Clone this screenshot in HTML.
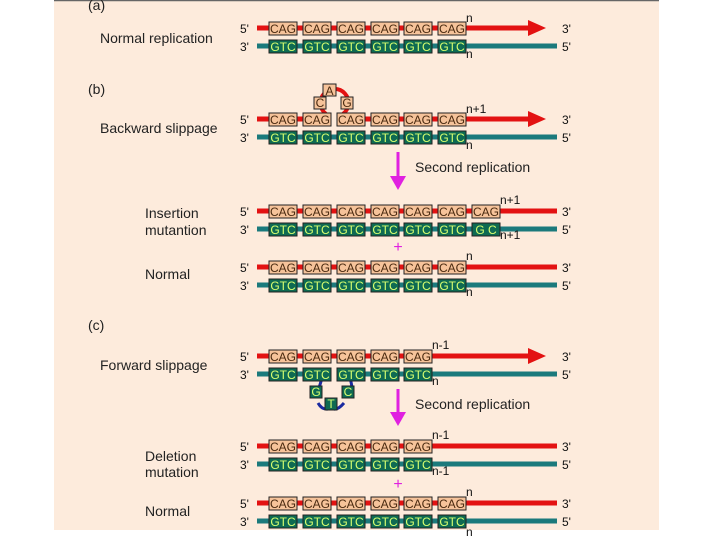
<!DOCTYPE html>
<html><head><meta charset="utf-8"><style>
html,body{margin:0;padding:0;background:#fff;width:720px;height:540px;overflow:hidden}
svg{display:block}
text{font-family:"Liberation Sans",sans-serif}
.l{font-size:14px;fill:#222}
.s{font-size:12px;fill:#111}
.c{font-size:12px;fill:#4a2a10;text-anchor:middle}
.g{font-size:12px;fill:#d8ff70;text-anchor:middle}
.n{font-size:12px;fill:#111}
.cb{fill:#f6c39a;stroke:#222;stroke-width:1}
.gb{fill:#0e6a52;stroke:#222;stroke-width:1}
.r{stroke:#e31212;stroke-width:5}
.t{stroke:#1b7a7c;stroke-width:5}
</style></head><body>
<svg width="720" height="540" viewBox="0 0 720 540">
<rect x="54" y="0" width="605" height="530" fill="#fdebdc"/>
<line x1="54" y1="0.5" x2="659" y2="0.5" stroke="#666" stroke-width="1.5"/>

<!-- labels -->
<text class="l" x="88" y="10">(a)</text>
<text class="l" x="100" y="43">Normal replication</text>
<text class="l" x="88" y="94">(b)</text>
<text class="l" x="100" y="133">Backward slippage</text>
<text class="l" x="145" y="218">Insertion</text>
<text class="l" x="145" y="235">mutantion</text>
<text class="l" x="145" y="279">Normal</text>
<text class="l" x="88" y="330">(c)</text>
<text class="l" x="100" y="370">Forward slippage</text>
<text class="l" x="145" y="461">Deletion</text>
<text class="l" x="145" y="477">mutation</text>
<text class="l" x="145" y="516">Normal</text>
<text class="l" x="415" y="172">Second replication</text>
<text class="l" x="415" y="409">Second replication</text>

<!-- magenta arrows & pluses -->
<g stroke="#e020e0" stroke-width="3" fill="#e020e0">
<line x1="398" y1="152" x2="398" y2="180"/><polygon points="390,176 406,176 398,190" stroke="none"/>
<line x1="398" y1="389" x2="398" y2="416"/><polygon points="390,412 406,412 398,426" stroke="none"/>
</g>
<text x="398" y="252" font-size="16" fill="#e020e0" text-anchor="middle" font-family="Liberation Sans">+</text>
<text x="398" y="489" font-size="16" fill="#e020e0" text-anchor="middle" font-family="Liberation Sans">+</text>

<!-- ROW a T=28 -->
<g>
<text class="s" x="240" y="33">5'</text><text class="s" x="240" y="51">3'</text>
<text class="s" x="562" y="33">3'</text><text class="s" x="562" y="51">5'</text>
<line class="r" x1="257" y1="28" x2="532" y2="28"/><polygon points="528,20 546,28 528,36" fill="#e31212"/>
<line class="t" x1="257" y1="46" x2="557" y2="46"/>
<rect class="cb" x="269" y="22" width="28" height="13"/><text class="c" x="283" y="33">CAG</text>
<rect class="cb" x="303" y="22" width="28" height="13"/><text class="c" x="317" y="33">CAG</text>
<rect class="cb" x="337" y="22" width="28" height="13"/><text class="c" x="351" y="33">CAG</text>
<rect class="cb" x="371" y="22" width="28" height="13"/><text class="c" x="385" y="33">CAG</text>
<rect class="cb" x="404" y="22" width="28" height="13"/><text class="c" x="418" y="33">CAG</text>
<rect class="cb" x="438" y="22" width="28" height="13"/><text class="c" x="452" y="33">CAG</text>
<rect class="gb" x="269" y="40" width="28" height="13"/><text class="g" x="283" y="51">GTC</text>
<rect class="gb" x="303" y="40" width="28" height="13"/><text class="g" x="317" y="51">GTC</text>
<rect class="gb" x="337" y="40" width="28" height="13"/><text class="g" x="351" y="51">GTC</text>
<rect class="gb" x="371" y="40" width="28" height="13"/><text class="g" x="385" y="51">GTC</text>
<rect class="gb" x="404" y="40" width="28" height="13"/><text class="g" x="418" y="51">GTC</text>
<rect class="gb" x="438" y="40" width="28" height="13"/><text class="g" x="452" y="51">GTC</text>
<text class="n" x="466" y="22">n</text><text class="n" x="466" y="58">n</text>
</g>

<!-- ROW b T=119 -->
<g>
<text class="s" x="240" y="124">5'</text><text class="s" x="240" y="142">3'</text>
<text class="s" x="562" y="124">3'</text><text class="s" x="562" y="142">5'</text>
<line class="r" x1="257" y1="119" x2="329" y2="119"/><line class="r" x1="339" y1="119" x2="532" y2="119"/>
<polygon points="528,111 546,119 528,127" fill="#e31212"/>
<path d="M326,114 A14,14 0 1,1 343,114" fill="none" stroke="#e31212" stroke-width="4"/>
<rect class="cb" x="323" y="84" width="13" height="12"/><text class="c" x="329.5" y="95">A</text>
<rect class="cb" x="314" y="97" width="12" height="12"/><text class="c" x="320" y="107">C</text>
<rect class="cb" x="341" y="97" width="12" height="12"/><text class="c" x="347" y="107">G</text>
<line class="t" x1="257" y1="137" x2="557" y2="137"/>
<rect class="cb" x="269" y="113" width="28" height="13"/><text class="c" x="283" y="124">CAG</text>
<rect class="cb" x="303" y="113" width="28" height="13"/><text class="c" x="317" y="124">CAG</text>
<rect class="cb" x="337" y="113" width="28" height="13"/><text class="c" x="351" y="124">CAG</text>
<rect class="cb" x="371" y="113" width="28" height="13"/><text class="c" x="385" y="124">CAG</text>
<rect class="cb" x="404" y="113" width="28" height="13"/><text class="c" x="418" y="124">CAG</text>
<rect class="cb" x="438" y="113" width="28" height="13"/><text class="c" x="452" y="124">CAG</text>
<rect class="gb" x="269" y="131" width="28" height="13"/><text class="g" x="283" y="142">GTC</text>
<rect class="gb" x="303" y="131" width="28" height="13"/><text class="g" x="317" y="142">GTC</text>
<rect class="gb" x="337" y="131" width="28" height="13"/><text class="g" x="351" y="142">GTC</text>
<rect class="gb" x="371" y="131" width="28" height="13"/><text class="g" x="385" y="142">GTC</text>
<rect class="gb" x="404" y="131" width="28" height="13"/><text class="g" x="418" y="142">GTC</text>
<rect class="gb" x="438" y="131" width="28" height="13"/><text class="g" x="452" y="142">GTC</text>
<text class="n" x="466" y="113">n+1</text><text class="n" x="466" y="149">n</text>
</g>

<!-- Insertion T=211 -->
<g>
<text class="s" x="240" y="216">5'</text><text class="s" x="240" y="234">3'</text>
<text class="s" x="562" y="216">3'</text><text class="s" x="562" y="234">5'</text>
<line class="r" x1="257" y1="211" x2="557" y2="211"/>
<line class="t" x1="257" y1="229" x2="557" y2="229"/>
<rect class="cb" x="269" y="205" width="28" height="13"/><text class="c" x="283" y="216">CAG</text>
<rect class="cb" x="303" y="205" width="28" height="13"/><text class="c" x="317" y="216">CAG</text>
<rect class="cb" x="337" y="205" width="28" height="13"/><text class="c" x="351" y="216">CAG</text>
<rect class="cb" x="371" y="205" width="28" height="13"/><text class="c" x="385" y="216">CAG</text>
<rect class="cb" x="404" y="205" width="28" height="13"/><text class="c" x="418" y="216">CAG</text>
<rect class="cb" x="438" y="205" width="28" height="13"/><text class="c" x="452" y="216">CAG</text>
<rect class="cb" x="472" y="205" width="28" height="13"/><text class="c" x="486" y="216">CAG</text>
<rect class="gb" x="269" y="223" width="28" height="13"/><text class="g" x="283" y="234">GTC</text>
<rect class="gb" x="303" y="223" width="28" height="13"/><text class="g" x="317" y="234">GTC</text>
<rect class="gb" x="337" y="223" width="28" height="13"/><text class="g" x="351" y="234">GTC</text>
<rect class="gb" x="371" y="223" width="28" height="13"/><text class="g" x="385" y="234">GTC</text>
<rect class="gb" x="404" y="223" width="28" height="13"/><text class="g" x="418" y="234">GTC</text>
<rect class="gb" x="438" y="223" width="28" height="13"/><text class="g" x="452" y="234">GTC</text>
<rect class="gb" x="472" y="223" width="28" height="13"/><text class="g" x="486" y="234">G C</text>
<text class="n" x="500" y="204">n+1</text><text class="n" x="500" y="239">n+1</text>
</g>

<!-- Normal T=267 -->
<g>
<text class="s" x="240" y="272">5'</text><text class="s" x="240" y="290">3'</text>
<text class="s" x="562" y="272">3'</text><text class="s" x="562" y="290">5'</text>
<line class="r" x1="257" y1="267" x2="557" y2="267"/>
<line class="t" x1="257" y1="285" x2="557" y2="285"/>
<rect class="cb" x="269" y="261" width="28" height="13"/><text class="c" x="283" y="272">CAG</text>
<rect class="cb" x="303" y="261" width="28" height="13"/><text class="c" x="317" y="272">CAG</text>
<rect class="cb" x="337" y="261" width="28" height="13"/><text class="c" x="351" y="272">CAG</text>
<rect class="cb" x="371" y="261" width="28" height="13"/><text class="c" x="385" y="272">CAG</text>
<rect class="cb" x="404" y="261" width="28" height="13"/><text class="c" x="418" y="272">CAG</text>
<rect class="cb" x="438" y="261" width="28" height="13"/><text class="c" x="452" y="272">CAG</text>
<rect class="gb" x="269" y="279" width="28" height="13"/><text class="g" x="283" y="290">GTC</text>
<rect class="gb" x="303" y="279" width="28" height="13"/><text class="g" x="317" y="290">GTC</text>
<rect class="gb" x="337" y="279" width="28" height="13"/><text class="g" x="351" y="290">GTC</text>
<rect class="gb" x="371" y="279" width="28" height="13"/><text class="g" x="385" y="290">GTC</text>
<rect class="gb" x="404" y="279" width="28" height="13"/><text class="g" x="418" y="290">GTC</text>
<rect class="gb" x="438" y="279" width="28" height="13"/><text class="g" x="452" y="290">GTC</text>
<text class="n" x="466" y="260">n</text><text class="n" x="466" y="296">n</text>
</g>

<!-- Forward T=356 -->
<g>
<text class="s" x="240" y="361">5'</text><text class="s" x="240" y="379">3'</text>
<text class="s" x="562" y="361">3'</text><text class="s" x="562" y="379">5'</text>
<line class="r" x1="257" y1="356" x2="532" y2="356"/><polygon points="528,348 546,356 528,364" fill="#e31212"/>
<line class="t" x1="257" y1="374" x2="329" y2="374"/><line class="t" x1="339" y1="374" x2="557" y2="374"/>
<path d="M322,378 Q318,392 316,395 M350,378 Q354,392 350,396 M318,403 Q322,410 328,409 M344,403 Q338,410 334,409" fill="none" stroke="#1a2aa0" stroke-width="3"/>
<rect class="gb" x="310" y="386" width="12" height="12"/><text class="g" x="316" y="396">G</text>
<rect class="gb" x="342" y="386" width="12" height="12"/><text class="g" x="348" y="396">C</text>
<rect class="gb" x="325" y="398" width="12" height="12"/><text class="g" x="331" y="408">T</text>
<rect class="cb" x="269" y="350" width="28" height="13"/><text class="c" x="283" y="361">CAG</text>
<rect class="cb" x="303" y="350" width="28" height="13"/><text class="c" x="317" y="361">CAG</text>
<rect class="cb" x="337" y="350" width="28" height="13"/><text class="c" x="351" y="361">CAG</text>
<rect class="cb" x="371" y="350" width="28" height="13"/><text class="c" x="385" y="361">CAG</text>
<rect class="cb" x="404" y="350" width="28" height="13"/><text class="c" x="418" y="361">CAG</text>
<rect class="gb" x="269" y="368" width="28" height="13"/><text class="g" x="283" y="379">GTC</text>
<rect class="gb" x="303" y="368" width="28" height="13"/><text class="g" x="317" y="379">GTC</text>
<rect class="gb" x="337" y="368" width="28" height="13"/><text class="g" x="351" y="379">GTC</text>
<rect class="gb" x="371" y="368" width="28" height="13"/><text class="g" x="385" y="379">GTC</text>
<rect class="gb" x="404" y="368" width="28" height="13"/><text class="g" x="418" y="379">GTC</text>
<text class="n" x="432" y="349">n-1</text><text class="n" x="432" y="385">n</text>
</g>

<!-- Deletion T=446 -->
<g>
<text class="s" x="240" y="451">5'</text><text class="s" x="240" y="469">3'</text>
<text class="s" x="562" y="451">3'</text><text class="s" x="562" y="469">5'</text>
<line class="r" x1="257" y1="446" x2="557" y2="446"/>
<line class="t" x1="257" y1="464" x2="557" y2="464"/>
<rect class="cb" x="269" y="440" width="28" height="13"/><text class="c" x="283" y="451">CAG</text>
<rect class="cb" x="303" y="440" width="28" height="13"/><text class="c" x="317" y="451">CAG</text>
<rect class="cb" x="337" y="440" width="28" height="13"/><text class="c" x="351" y="451">CAG</text>
<rect class="cb" x="371" y="440" width="28" height="13"/><text class="c" x="385" y="451">CAG</text>
<rect class="cb" x="404" y="440" width="28" height="13"/><text class="c" x="418" y="451">CAG</text>
<rect class="gb" x="269" y="458" width="28" height="13"/><text class="g" x="283" y="469">GTC</text>
<rect class="gb" x="303" y="458" width="28" height="13"/><text class="g" x="317" y="469">GTC</text>
<rect class="gb" x="337" y="458" width="28" height="13"/><text class="g" x="351" y="469">GTC</text>
<rect class="gb" x="371" y="458" width="28" height="13"/><text class="g" x="385" y="469">GTC</text>
<rect class="gb" x="404" y="458" width="28" height="13"/><text class="g" x="418" y="469">GTC</text>
<text class="n" x="432" y="439">n-1</text><text class="n" x="432" y="475">n-1</text>
</g>

<!-- Normal T=503 -->
<g>
<text class="s" x="240" y="508">5'</text><text class="s" x="240" y="526">3'</text>
<text class="s" x="562" y="508">3'</text><text class="s" x="562" y="526">5'</text>
<line class="r" x1="257" y1="503" x2="557" y2="503"/>
<line class="t" x1="257" y1="521" x2="557" y2="521"/>
<rect class="cb" x="269" y="497" width="28" height="13"/><text class="c" x="283" y="508">CAG</text>
<rect class="cb" x="303" y="497" width="28" height="13"/><text class="c" x="317" y="508">CAG</text>
<rect class="cb" x="337" y="497" width="28" height="13"/><text class="c" x="351" y="508">CAG</text>
<rect class="cb" x="371" y="497" width="28" height="13"/><text class="c" x="385" y="508">CAG</text>
<rect class="cb" x="404" y="497" width="28" height="13"/><text class="c" x="418" y="508">CAG</text>
<rect class="cb" x="438" y="497" width="28" height="13"/><text class="c" x="452" y="508">CAG</text>
<rect class="gb" x="269" y="515" width="28" height="13"/><text class="g" x="283" y="526">GTC</text>
<rect class="gb" x="303" y="515" width="28" height="13"/><text class="g" x="317" y="526">GTC</text>
<rect class="gb" x="337" y="515" width="28" height="13"/><text class="g" x="351" y="526">GTC</text>
<rect class="gb" x="371" y="515" width="28" height="13"/><text class="g" x="385" y="526">GTC</text>
<rect class="gb" x="404" y="515" width="28" height="13"/><text class="g" x="418" y="526">GTC</text>
<rect class="gb" x="438" y="515" width="28" height="13"/><text class="g" x="452" y="526">GTC</text>
<text class="n" x="466" y="496">n</text><text class="n" x="466" y="536">n</text>
</g>
</svg>
</body></html>
